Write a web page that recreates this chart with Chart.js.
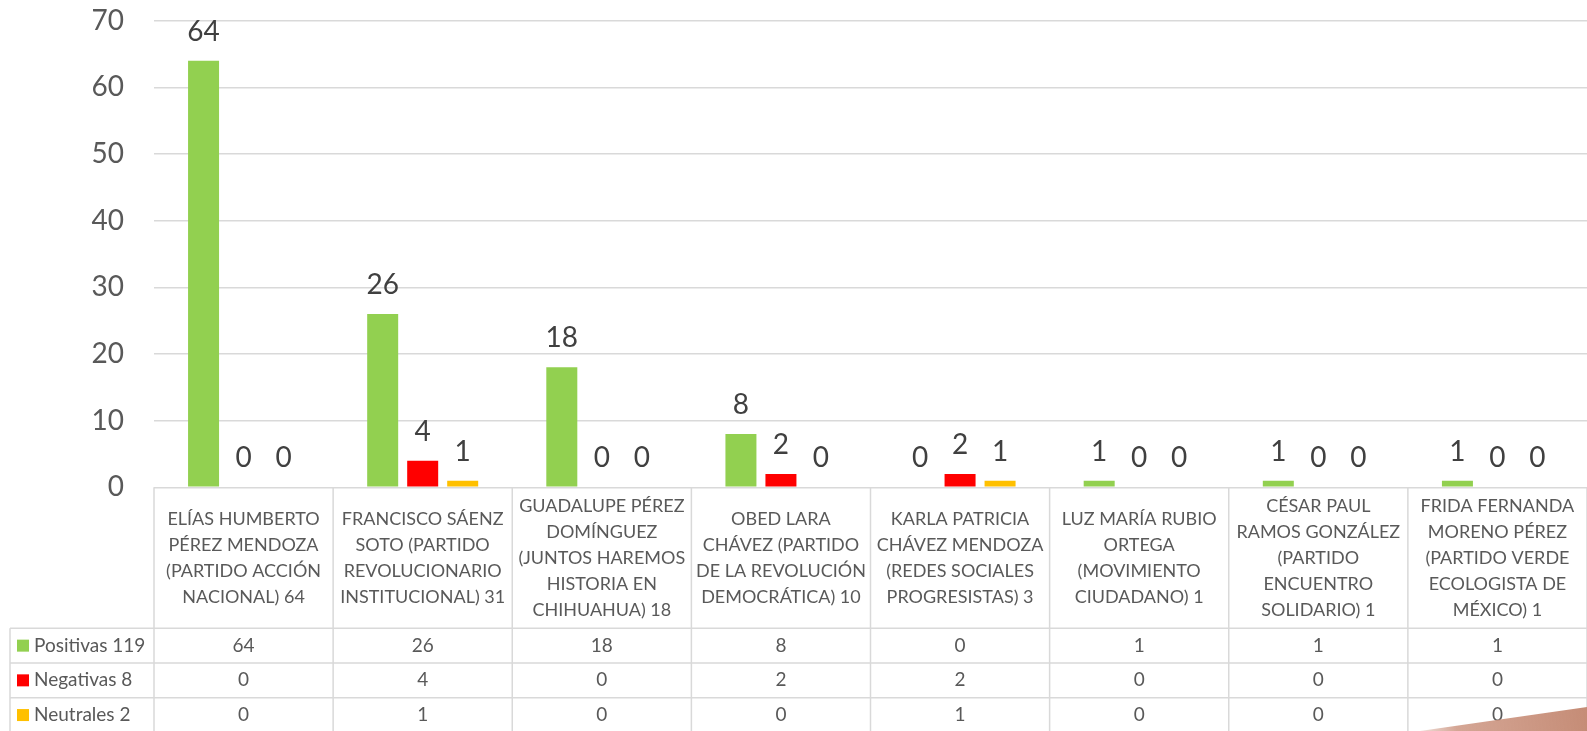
<!DOCTYPE html>
<html>
<head>
<meta charset="utf-8">
<script src="https://cdn.jsdelivr.net/npm/chart.js@4"></script>
<style>
  html, body { margin: 0; padding: 0; background: #fff; }
</style>
</head>
<body>
<canvas id="chart" width="1587" height="731"></canvas>
<script>
const categories = [
  ["ELÍAS HUMBERTO", "PÉREZ MENDOZA", "(PARTIDO ACCIÓN", "NACIONAL) 64"],
  ["FRANCISCO SÁENZ", "SOTO (PARTIDO", "REVOLUCIONARIO", "INSTITUCIONAL) 31"],
  ["GUADALUPE PÉREZ", "DOMÍNGUEZ", "(JUNTOS HAREMOS", "HISTORIA EN", "CHIHUAHUA) 18"],
  ["OBED LARA", "CHÁVEZ (PARTIDO", "DE LA REVOLUCIÓN", "DEMOCRÁTICA) 10"],
  ["KARLA PATRICIA", "CHÁVEZ MENDOZA", "(REDES SOCIALES", "PROGRESISTAS) 3"],
  ["LUZ MARÍA RUBIO", "ORTEGA", "(MOVIMIENTO", "CIUDADANO) 1"],
  ["CÉSAR PAUL", "RAMOS GONZÁLEZ", "(PARTIDO", "ENCUENTRO", "SOLIDARIO) 1"],
  ["FRIDA FERNANDA", "MORENO PÉREZ", "(PARTIDO VERDE", "ECOLOGISTA DE", "MÉXICO) 1"]
];
const positivas = [64, 26, 18, 8, 0, 1, 1, 1];
const negativas = [0, 4, 0, 2, 2, 0, 0, 0];
const neutrales = [0, 1, 0, 0, 1, 0, 0, 0];
const seriesNames = ["Positivas 119", "Negativas 8", "Neutrales 2"];
const seriesColors = ["#92D050", "#FF0000", "#FFC000"];
const yMax = 70;
const yStep = 10;

const FONT = "Lato, 'Open Sans', sans-serif";

// value labels above the bars
const valueLabels = {
  id: "valueLabels",
  afterDatasetsDraw(chart) {
    const ctx = chart.ctx;
    ctx.save();
    ctx.font = "28px " + FONT;
    ctx.fillStyle = "#404040";
    ctx.textAlign = "center";
    ctx.textBaseline = "alphabetic";
    chart.data.datasets.forEach((ds, i) => {
      chart.getDatasetMeta(i).data.forEach((bar, j) => {
        ctx.fillText(String(ds.data[j]), bar.x, bar.y - 20);
      });
    });
    ctx.restore();
  }
};

// data table under the plot (category names, legend keys, values)
const dataTable = {
  id: "dataTable",
  afterDraw(chart) {
    const ctx = chart.ctx;
    const xs = chart.scales.x;
    const area = chart.chartArea;
    const n = chart.data.labels.length;
    const colW = xs.getPixelForValue(1) - xs.getPixelForValue(0);
    const top = area.bottom;
    const catBottom = top + 141;
    const rowH = 34.7;
    const legendLeft = 10;
    const H = chart.height;

    ctx.save();
    ctx.strokeStyle = "#D9D9D9";
    ctx.lineWidth = 1.5;
    ctx.beginPath();
    for (let r = 0; r < 4; r++) {
      const y = catBottom + r * rowH;
      ctx.moveTo(legendLeft, y);
      ctx.lineTo(area.right, y);
    }
    for (let i = 0; i <= n; i++) {
      const x = xs.getPixelForValue(i) - colW / 2;
      ctx.moveTo(x, top);
      ctx.lineTo(x, H);
    }
    ctx.moveTo(legendLeft, catBottom);
    ctx.lineTo(legendLeft, H);
    ctx.stroke();

    ctx.fillStyle = "#595959";
    ctx.textAlign = "center";
    ctx.textBaseline = "middle";
    ctx.font = "18px " + FONT;
    const lh = 26;
    const mid = (top + catBottom) / 2;
    chart.data.labels.forEach((lines, i) => {
      const cx = xs.getPixelForValue(i);
      const y0 = mid - (lines.length - 1) * lh / 2;
      lines.forEach((t, k) => ctx.fillText(t, cx, y0 + k * lh));
    });

    ctx.font = "19px " + FONT;
    chart.data.datasets.forEach((ds, r) => {
      const cy = catBottom + r * rowH + rowH / 2;
      ctx.fillStyle = ds.backgroundColor;
      ctx.fillRect(17, cy - 6, 12, 12);
      ctx.fillStyle = "#595959";
      ctx.textAlign = "left";
      ctx.fillText(ds.label, 34, cy);
      ctx.textAlign = "center";
      ds.data.forEach((v, j) => ctx.fillText(String(v), xs.getPixelForValue(j), cy));
    });

    // slide decoration in the lower right corner
    const g = ctx.createLinearGradient(1400, 731, 1587, 705);
    g.addColorStop(0, "rgba(205,150,130,0)");
    g.addColorStop(0.3, "rgba(205,150,130,0.85)");
    g.addColorStop(1, "#C58C76");
    ctx.fillStyle = g;
    ctx.beginPath();
    ctx.moveTo(1420, 731);
    ctx.lineTo(1587, 707);
    ctx.lineTo(1587, 731);
    ctx.closePath();
    ctx.fill();
    ctx.restore();
  }
};

new Chart(document.getElementById("chart"), {
  type: "bar",
  data: {
    labels: categories,
    datasets: [
      { label: seriesNames[0], data: positivas, backgroundColor: seriesColors[0] },
      { label: seriesNames[1], data: negativas, backgroundColor: seriesColors[1] },
      { label: seriesNames[2], data: neutrales, backgroundColor: seriesColors[2] }
    ]
  },
  options: {
    responsive: false,
    animation: false,
    layout: { padding: { top: 20.7, left: 0, right: 0, bottom: 0 } },
    datasets: { bar: { categoryPercentage: 0.67, barPercentage: 0.775 } },
    plugins: { legend: { display: false }, tooltip: { enabled: false } },
    scales: {
      x: {
        grid: { display: false },
        border: { display: false },
        ticks: { display: false },
        afterFit: s => { s.height = 731 - 487.3; }
      },
      y: {
        min: 0,
        max: yMax,
        ticks: { stepSize: yStep, color: "#595959", font: { family: FONT, size: 28 }, padding: 30 },
        grid: { color: "#D9D9D9", lineWidth: 1.5, drawTicks: false },
        border: { display: false },
        afterFit: s => {
          s.width = 154;
          // tick padding would otherwise push the plot area down
          s.paddingTop = 0;
          s.paddingBottom = 0;
        }
      }
    }
  },
  plugins: [valueLabels, dataTable]
});
</script>
</body>
</html>
